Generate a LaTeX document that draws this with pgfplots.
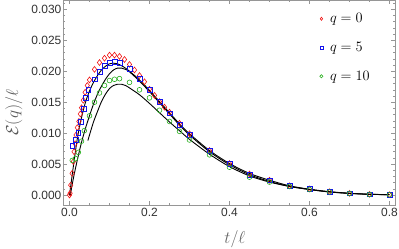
\documentclass[border=0pt]{standalone}
\usepackage{fontspec}
\setmainfont{Liberation Sans}
\usepackage{pgfplots}
\pgfplotsset{compat=1.18}
\definecolor{mred}{RGB}{240,20,20}
\definecolor{mblue}{RGB}{20,20,235}
\definecolor{mgreen}{RGB}{40,175,30}
\definecolor{frame}{RGB}{150,150,150}
\begin{document}
\begin{tikzpicture}
\useasboundingbox (0,0) rectangle (399bp,249bp);
\begin{axis}[
  at={(63bp,44bp)}, anchor=south west,
  scale only axis, width=332bp, height=205bp,
  xmin=-0.01625, xmax=0.81375, ymin=-0.0016, ymax=0.0315,
  axis line style={frame, line width=0.6pt},
  tick style={frame, line width=0.5pt},
  tick align=inside,
  major tick length=4bp, minor tick length=2.2bp,
  xtick={0,0.2,0.4,0.6,0.8}, minor xtick={0.05,0.1,0.15,0.25,0.3,0.35,0.45,0.5,0.55,0.65,0.7,0.75},
  ytick={0,0.005,0.01,0.015,0.02,0.025,0.03},
  minor ytick={0.001,0.002,0.003,0.004,0.006,0.007,0.008,0.009,0.011,0.012,0.013,0.014,0.016,0.017,0.018,0.019,0.021,0.022,0.023,0.024,0.026,0.027,0.028,0.029,0.031},
  scaled y ticks=false, scaled x ticks=false,
  /pgf/number format/assume math mode=true,
  xticklabel style={/pgf/number format/.cd, fixed, fixed zerofill, precision=1, /tikz/.cd, font=\fontsize{12}{14}\selectfont, text=black!80},
  yticklabel style={/pgf/number format/.cd, fixed, fixed zerofill, precision=3, /tikz/.cd, font=\fontsize{12}{14}\selectfont, text=black!80, inner sep=1.5pt},
  xlabel={$t/\ell$},
  ylabel={$\mathcal{E}(q)/\ell$},
  xlabel style={at={(axis description cs:0.518,-0.165)}, anchor=center, font=\fontsize{16}{18}\selectfont, text=black!60},
  ylabel style={at={(axis description cs:-0.148,0.45)}, anchor=center, rotate=0, font=\fontsize{16}{18}\selectfont, text=black!65},
  legend style={draw=none, fill=none, at={(0.77,0.95)}, anchor=north west, font=\fontsize{13.5}{15}\selectfont, row sep=14bp, inner sep=1pt},
  legend image post style={mark size=1.6bp},
  legend cell align=left,
]
\addplot[only marks, mark=diamond, mark size=2.9bp, mred, mark options={line width=0.6pt}] coordinates {
(0,0)(0.0015,0.0003)(0.003,0.0016)(0.0065,0.0035)(0.0095,0.0054)(0.0115,0.007)(0.014,0.0083)(0.0165,0.0097)(0.0195,0.0109)(0.0235,0.0119)(0.027,0.0131)(0.03,0.0141)(0.0345,0.0153)(0.039,0.0166)(0.0445,0.0177)(0.05,0.0186)(0.0625,0.0203)(0.075,0.0214)(0.0875,0.0221)(0.1,0.0226)(0.1125,0.0226)(0.125,0.0224)(0.1375,0.0219)(0.15,0.0211)(0.1625,0.0202)(0.175,0.0193)(0.1875,0.0183)(0.2,0.0171)(0.2125,0.0161)(0.225,0.0151)(0.2375,0.0142)(0.25,0.0134)(0.275,0.0116)(0.3,0.0099)(0.35,0.0072)(0.4,0.0051)(0.45,0.0034)(0.5,0.0024)(0.55,0.0015)(0.6,0.001)(0.65,0.00055)(0.7,0.00028)(0.75,0.00012)(0.8,0.00006)
};
\addlegendentry{\hspace{5pt}$q=0$}
\addplot[only marks, mark=square, mark size=2.4bp, mblue, mark options={line width=0.6pt}] coordinates {
(0.007,0.0079)(0.0155,0.0089)(0.022,0.0101)(0.028,0.0118)(0.035,0.0139)(0.041,0.0157)(0.047,0.017)(0.0625,0.0187)(0.075,0.0199)(0.0875,0.0209)(0.1,0.0214)(0.1125,0.0215)(0.125,0.0214)(0.15,0.0204)(0.175,0.0188)(0.2,0.017)(0.225,0.0151)(0.25,0.0132)(0.275,0.0113)(0.3,0.0097)(0.35,0.0071)(0.4,0.005)(0.45,0.0033)(0.5,0.0024)(0.55,0.0015)(0.6,0.001)(0.65,0.00055)(0.7,0.00028)(0.75,0.00012)(0.8,0.00006)
};
\addlegendentry{\hspace{5pt}$q=5$}
\addplot[only marks, mark=o, mark size=2.4bp, mgreen, mark options={line width=0.6pt}] coordinates {
(0.007,0.0056)(0.015,0.0059)(0.022,0.0069)(0.03,0.0087)(0.037,0.0104)(0.05,0.0128)(0.0625,0.015)(0.075,0.0165)(0.0875,0.0177)(0.1,0.0185)(0.1125,0.0187)(0.125,0.0188)(0.15,0.0182)(0.175,0.017)(0.2,0.0157)(0.225,0.0137)(0.25,0.0119)(0.275,0.0103)(0.3,0.0089)(0.35,0.0065)(0.4,0.0045)(0.45,0.0029)(0.5,0.0021)(0.55,0.0014)(0.6,0.0009)(0.65,0.0005)(0.7,0.00027)(0.75,0.0001)(0.8,0.00005)
};
\addlegendentry{\hspace{5pt}$q=10$}
\addplot[black, line width=0.9pt, smooth, forget plot] coordinates {
(0,0)(0.005,0.0024)(0.01,0.0048)(0.02,0.0093)(0.03,0.0125)(0.04,0.015)(0.05,0.0168)(0.06,0.0182)(0.07,0.0193)(0.08,0.0202)(0.09,0.0208)(0.1,0.0212)(0.11,0.0213)(0.12,0.0212)(0.13,0.0209)(0.14,0.0205)(0.15,0.02)(0.175,0.0186)(0.2,0.0169)(0.225,0.0151)(0.25,0.0133)(0.275,0.0115)(0.3,0.0099)(0.35,0.0072)(0.4,0.0051)(0.45,0.0035)(0.5,0.0024)(0.55,0.0015)(0.6,0.00095)(0.65,0.00055)(0.7,0.0003)(0.75,0.00014)(0.8,0.00007)
};
\addplot[black, line width=0.9pt, smooth, forget plot] coordinates {
(0.002,0)(0.01,0.0028)(0.02,0.0058)(0.03,0.0085)(0.04,0.0108)(0.05,0.0128)(0.06,0.0147)(0.07,0.0163)(0.08,0.0176)(0.09,0.0187)(0.1,0.0196)(0.11,0.0202)(0.12,0.0205)(0.13,0.0205)(0.14,0.0203)(0.15,0.0199)(0.175,0.0184)(0.2,0.0167)(0.225,0.0149)(0.25,0.0131)(0.275,0.0113)(0.3,0.0097)(0.35,0.007)(0.4,0.0049)(0.45,0.0033)(0.5,0.0022)(0.55,0.0014)(0.6,0.0009)(0.65,0.00052)(0.7,0.00028)(0.75,0.00013)(0.8,0.00006)
};
\addplot[black, line width=0.9pt, smooth, forget plot] coordinates {
(0.046,0.0088)(0.05,0.0097)(0.06,0.0118)(0.07,0.0135)(0.08,0.0151)(0.09,0.0163)(0.1,0.0172)(0.11,0.0177)(0.12,0.0179)(0.13,0.0179)(0.14,0.0177)(0.15,0.0173)(0.175,0.0162)(0.2,0.0148)(0.225,0.0133)(0.25,0.0118)(0.275,0.0104)(0.3,0.009)(0.35,0.0066)(0.4,0.0046)(0.45,0.0031)(0.5,0.0021)(0.55,0.0014)(0.6,0.0009)(0.65,0.0005)(0.7,0.00027)(0.75,0.00012)(0.8,0.00006)
};
\end{axis}
\end{tikzpicture}
\end{document}
